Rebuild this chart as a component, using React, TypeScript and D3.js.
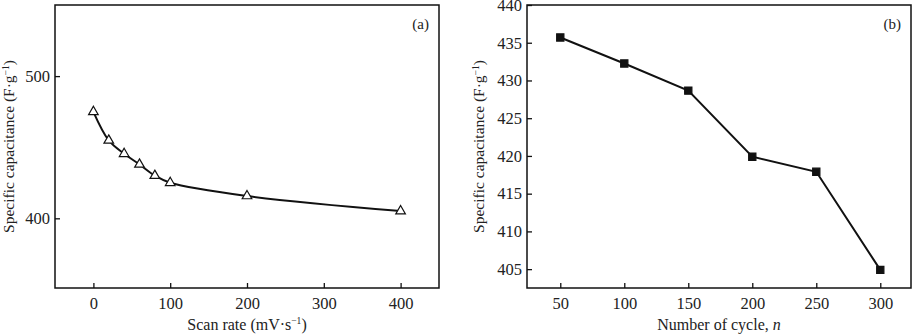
import * as d3 from "d3";
import React, { useEffect, useRef } from "react";

// panel (a): scan rate vs capacitance
const scanRates = [0, 20, 40, 60, 80, 100, 200, 400];
const scanCap = [474.9, 454.8, 445.4, 437.9, 430, 425, 415.7, 405.1];
const scanTicks = [0, 100, 200, 300, 400];
const scanCapTicks = [400, 500];

// panel (b): cycle number vs capacitance
const cycles = [50, 100, 150, 200, 250, 300];
const cycleCap = [435.7, 432.25, 428.65, 419.9, 417.9, 404.9];
const cycleTicks = [50, 100, 150, 200, 250, 300];
const cycleCapTicks = [405, 410, 415, 420, 425, 430, 435, 440];

const FONT = "'Liberation Serif', 'Times New Roman', serif";

const App: React.FC = () => {
    const ref = useRef<SVGSVGElement>(null);

    useEffect(() => {
        if (!ref.current) return;
        const svg = d3.select(ref.current);
        svg.selectAll("*").remove();

        const drawPanel = (opts: {
            left: number; right: number; top: number; bottom: number;
            xDomain: [number, number]; yDomain: [number, number];
            xTicks: number[]; yTicks: number[];
            xs: number[]; ys: number[];
            curve: d3.CurveFactory; marker: "triangle" | "square";
            tag: string; yLabelX: number; xLabel: (t: d3.Selection<SVGTextElement, unknown, null, undefined>) => void;
        }) => {
            const x = d3.scaleLinear().domain(opts.xDomain).range([opts.left, opts.right]);
            const y = d3.scaleLinear().domain(opts.yDomain).range([opts.bottom, opts.top]);
            const g = svg.append("g");

            g.append("rect")
                .attr("x", opts.left).attr("y", opts.top)
                .attr("width", opts.right - opts.left).attr("height", opts.bottom - opts.top)
                .attr("fill", "none").attr("stroke", "#111").attr("stroke-width", 1.5);

            const xa = g.append("g")
                .attr("transform", `translate(0,${opts.bottom})`)
                .call(d3.axisBottom(x).tickValues(opts.xTicks).tickSizeInner(-5).tickSizeOuter(0).tickPadding(9));
            const ya = g.append("g")
                .attr("transform", `translate(${opts.left},0)`)
                .call(d3.axisLeft(y).tickValues(opts.yTicks).tickSizeInner(-5).tickSizeOuter(0).tickPadding(5));
            [xa, ya].forEach(a => {
                a.select(".domain").remove();
                a.selectAll("line").attr("stroke", "#111").attr("stroke-width", 1.3);
                a.selectAll("text").attr("font-family", FONT).attr("font-size", 16.5).attr("fill", "#222");
            });

            const pts = opts.xs.map((v, i) => [v, opts.ys[i]] as [number, number]);
            const line = d3.line<[number, number]>()
                .x(d => x(d[0])).y(d => y(d[1])).curve(opts.curve);
            g.append("path").datum(pts)
                .attr("d", line).attr("fill", "none")
                .attr("stroke", "#111").attr("stroke-width", 2);

            const sym = d3.symbol()
                .type(opts.marker === "triangle" ? d3.symbolTriangle : d3.symbolSquare)
                .size(opts.marker === "triangle" ? 40 : 52);
            g.selectAll(".pt").data(pts).enter().append("path")
                .attr("transform", d => `translate(${x(d[0])},${y(d[1])})`)
                .attr("d", sym)
                .attr("fill", opts.marker === "triangle" ? "#fff" : "#111")
                .attr("stroke", "#111").attr("stroke-width", 1.2);

            g.append("text")
                .attr("x", opts.right - 10).attr("y", 29)
                .attr("text-anchor", "end")
                .attr("font-family", FONT).attr("font-size", 15).attr("fill", "#222")
                .text(opts.tag);

            const yl = g.append("text")
                .attr("transform", `translate(${opts.yLabelX},${(opts.top + opts.bottom) / 2}) rotate(-90)`)
                .attr("text-anchor", "middle")
                .attr("font-family", FONT).attr("font-size", 15.5).attr("fill", "#222");
            yl.append("tspan").text("Specific capacitance (F·g");
            yl.append("tspan").attr("dy", -5).attr("font-size", 9.5).text("−1");
            yl.append("tspan").attr("dy", 5).text(")");

            const xl = g.append("text")
                .attr("x", (opts.left + opts.right) / 2).attr("y", 330)
                .attr("text-anchor", "middle")
                .attr("font-family", FONT).attr("font-size", 16).attr("fill", "#222");
            opts.xLabel(xl);
        };

        drawPanel({
            left: 55, right: 439, top: 5, bottom: 288,
            xDomain: [-50, 450], yDomain: [351, 550],
            xTicks: scanTicks, yTicks: scanCapTicks,
            xs: scanRates, ys: scanCap,
            curve: d3.curveCatmullRom.alpha(0.5), marker: "triangle", tag: "(a)", yLabelX: 14,
            xLabel: t => {
                t.append("tspan").text("Scan rate (mV·s");
                t.append("tspan").attr("dy", -6).attr("font-size", 9.5).text("−1");
                t.append("tspan").attr("dy", 6).text(")");
            },
        });

        drawPanel({
            left: 527, right: 911, top: 5, bottom: 288,
            xDomain: [24, 324], yDomain: [402.5, 440],
            xTicks: cycleTicks, yTicks: cycleCapTicks,
            xs: cycles, ys: cycleCap,
            curve: d3.curveLinear, marker: "square", tag: "(b)", yLabelX: 484,
            xLabel: t => {
                t.append("tspan").text("Number of cycle, ");
                t.append("tspan").attr("font-style", "italic").text("n");
            },
        });
    }, []);

    return (
        <svg ref={ref} width={913} height={334}
            style={{ position: "absolute", left: 0, top: 0, background: "#fff" }} />
    );
};

export default App;
